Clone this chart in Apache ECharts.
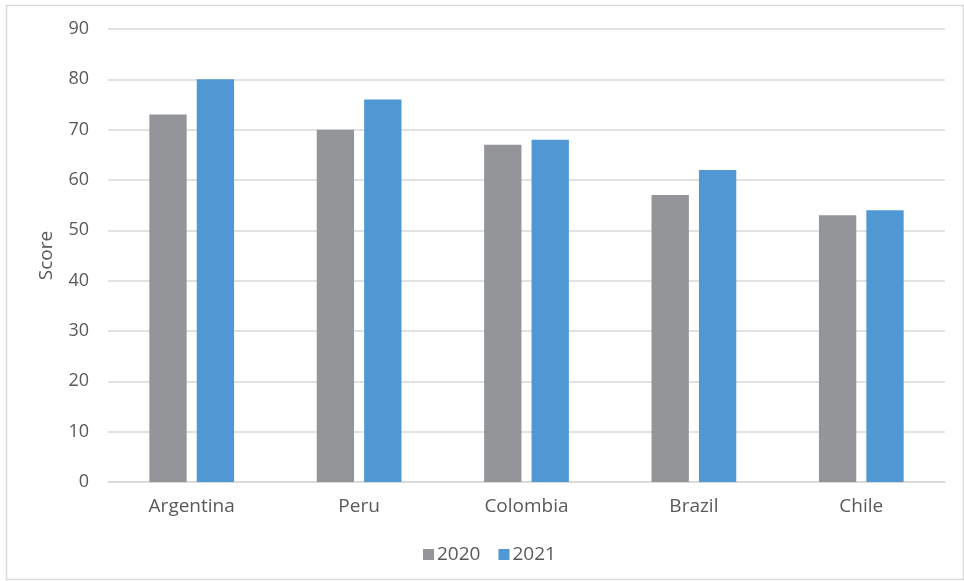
<!DOCTYPE html>
<html><head><meta charset="utf-8">
<script src="https://cdn.jsdelivr.net/npm/echarts@6/dist/echarts.min.js"></script>
<style>html,body{margin:0;padding:0;background:#fff}#c{width:964px;height:581px}</style>
</head><body><div id="c"></div>
<script>
const categories = ['Argentina', 'Peru', 'Colombia', 'Brazil', 'Chile'];
const values2020 = [73, 70, 67, 57, 53];
const values2021 = [80, 76, 68, 62, 54];
const yTicks = { min: 0, max: 90, interval: 10 };

const chart = echarts.init(document.getElementById('c'));
const font = 'Open Sans';
chart.setOption({
  animation: false,
  textStyle: { fontFamily: font },
  graphic: [{
    type: 'rect', left: 4, top: 3,
    shape: { width: 957, height: 574 },
    style: { fill: 'none', stroke: '#d9d9d9', lineWidth: 1.5 },
    silent: true
  }],
  grid: { left: 108, right: 19, top: 29, bottom: 99, containLabel: false },
  legend: {
    top: 540, left: 418, itemWidth: 11, itemHeight: 11, itemGap: 18,
    icon: 'rect',
    textStyle: { color: '#595959', fontSize: 19, fontFamily: font, padding: [0, 0, 0, -2] },
    data: ['2020', '2021']
  },
  xAxis: {
    type: 'category', data: categories,
    axisLine: { lineStyle: { color: '#d9d9d9', width: 1.5 } },
    axisTick: { show: false },
    axisLabel: { color: '#595959', fontSize: 19, margin: 15, fontFamily: font }
  },
  yAxis: {
    type: 'value', min: yTicks.min, max: yTicks.max, interval: yTicks.interval,
    name: 'Score', nameLocation: 'middle', nameGap: 52,
    nameTextStyle: { color: '#595959', fontSize: 19, fontFamily: font },
    axisLine: { show: false }, axisTick: { show: false },
    axisLabel: { color: '#595959', fontSize: 18, margin: 19, fontFamily: font },
    splitLine: { lineStyle: { color: '#d9d9d9', width: 1.5 } }
  },
  series: [
    { name: '2020', type: 'bar', data: values2020, barWidth: '22.3%', barGap: '27%', itemStyle: { color: '#939598' } },
    { name: '2021', type: 'bar', data: values2021, barWidth: '22.3%', itemStyle: { color: '#4f98d4' } }
  ]
});
</script></body></html>
